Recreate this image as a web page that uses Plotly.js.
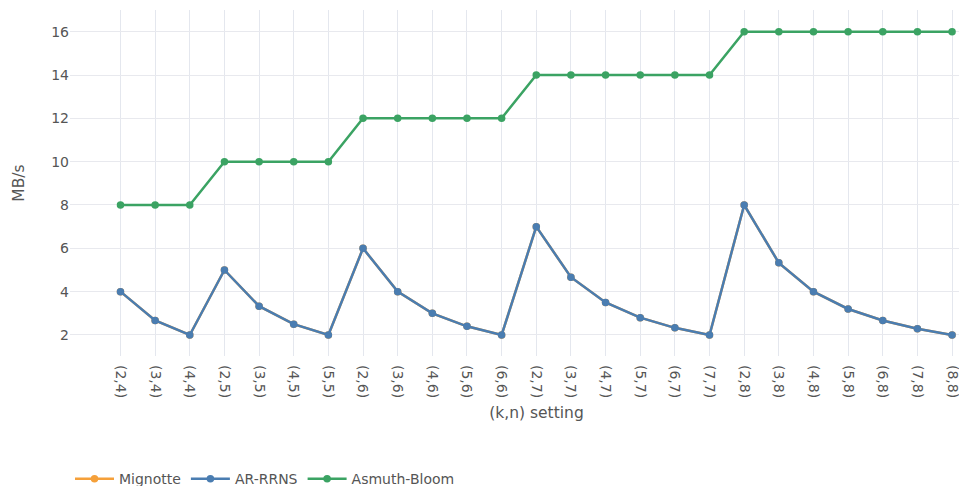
<!DOCTYPE html>
<html>
<head>
<meta charset="utf-8">
<script src="https://cdn.plot.ly/plotly-3.0.1.min.js"></script>
<style>
  html, body { margin: 0; padding: 0; overflow: hidden; background: #fff; }
  #chart { width: 1003px; height: 486px; }
</style>
</head>
<body>
<div id="chart"></div>
<script>
// (k,n) threshold settings on the x axis
const settings = [
  "(2,4)", "(3,4)", "(4,4)",
  "(2,5)", "(3,5)", "(4,5)", "(5,5)",
  "(2,6)", "(3,6)", "(4,6)", "(5,6)", "(6,6)",
  "(2,7)", "(3,7)", "(4,7)", "(5,7)", "(6,7)", "(7,7)",
  "(2,8)", "(3,8)", "(4,8)", "(5,8)", "(6,8)", "(7,8)", "(8,8)"
];

// throughput in MB/s for each scheme
const mignotte = [
  4, 2.67, 2,
  5, 3.33, 2.5, 2,
  6, 4, 3, 2.4, 2,
  7, 4.67, 3.5, 2.8, 2.33, 2,
  8, 5.33, 4, 3.2, 2.67, 2.29, 2
];
const arRrns = [
  4, 2.67, 2,
  5, 3.33, 2.5, 2,
  6, 4, 3, 2.4, 2,
  7, 4.67, 3.5, 2.8, 2.33, 2,
  8, 5.33, 4, 3.2, 2.67, 2.29, 2
];
const asmuthBloom = [
  8, 8, 8,
  10, 10, 10, 10,
  12, 12, 12, 12, 12,
  14, 14, 14, 14, 14, 14,
  16, 16, 16, 16, 16, 16, 16
];

const yTicks = [2, 4, 6, 8, 10, 12, 14, 16];

function series(name, values, color) {
  return {
    type: "scatter",
    mode: "lines+markers",
    name: name,
    x: settings,
    y: values,
    line: { color: color, width: 2.5 },
    marker: { color: color, size: 7.5 }
  };
}

const data = [
  series("Mignotte", mignotte, "#f5a03a"),
  series("AR-RRNS", arRrns, "#4a7db1"),
  series("Asmuth-Bloom", asmuthBloom, "#3ba363")
];

const font = { family: "DejaVu Sans, Verdana, sans-serif", size: 14, color: "#555" };

const layout = {
  width: 1003,
  height: 486,
  margin: { l: 70, r: 0, t: 10, b: 130 },
  paper_bgcolor: "#fff",
  plot_bgcolor: "#fff",
  font: font,
  showlegend: true,
  legend: {
    orientation: "h",
    x: 0,
    xanchor: "left",
    yref: "container",
    y: 0.047,
    yanchor: "top",
    itemwidth: 39,
    font: font
  },
  xaxis: {
    type: "category",
    range: [-1.457, 25.47],
    automargin: false,
    tickangle: 90,
    ticklabelstandoff: 8,
    showgrid: true,
    gridcolor: "#e4e7ee",
    zeroline: false,
    showline: false,
    ticks: "",
    tickfont: font,
    title: { text: "(k,n) setting", standoff: 9, font: { family: font.family, size: 15.5, color: "#555" } }
  },
  yaxis: {
    range: [1.03, 17.0],
    automargin: false,
    tickvals: yTicks,
    ticktext: yTicks.map(String),
    showgrid: true,
    gridcolor: "#e8e9ee",
    zeroline: false,
    showline: false,
    ticks: "",
    tickfont: font,
    title: { text: "MB/s", standoff: 22, font: { family: font.family, size: 15.5, color: "#555" } }
  }
};

Plotly.newPlot("chart", data, layout, { displayModeBar: false, staticPlot: true });
</script>
</body>
</html>
